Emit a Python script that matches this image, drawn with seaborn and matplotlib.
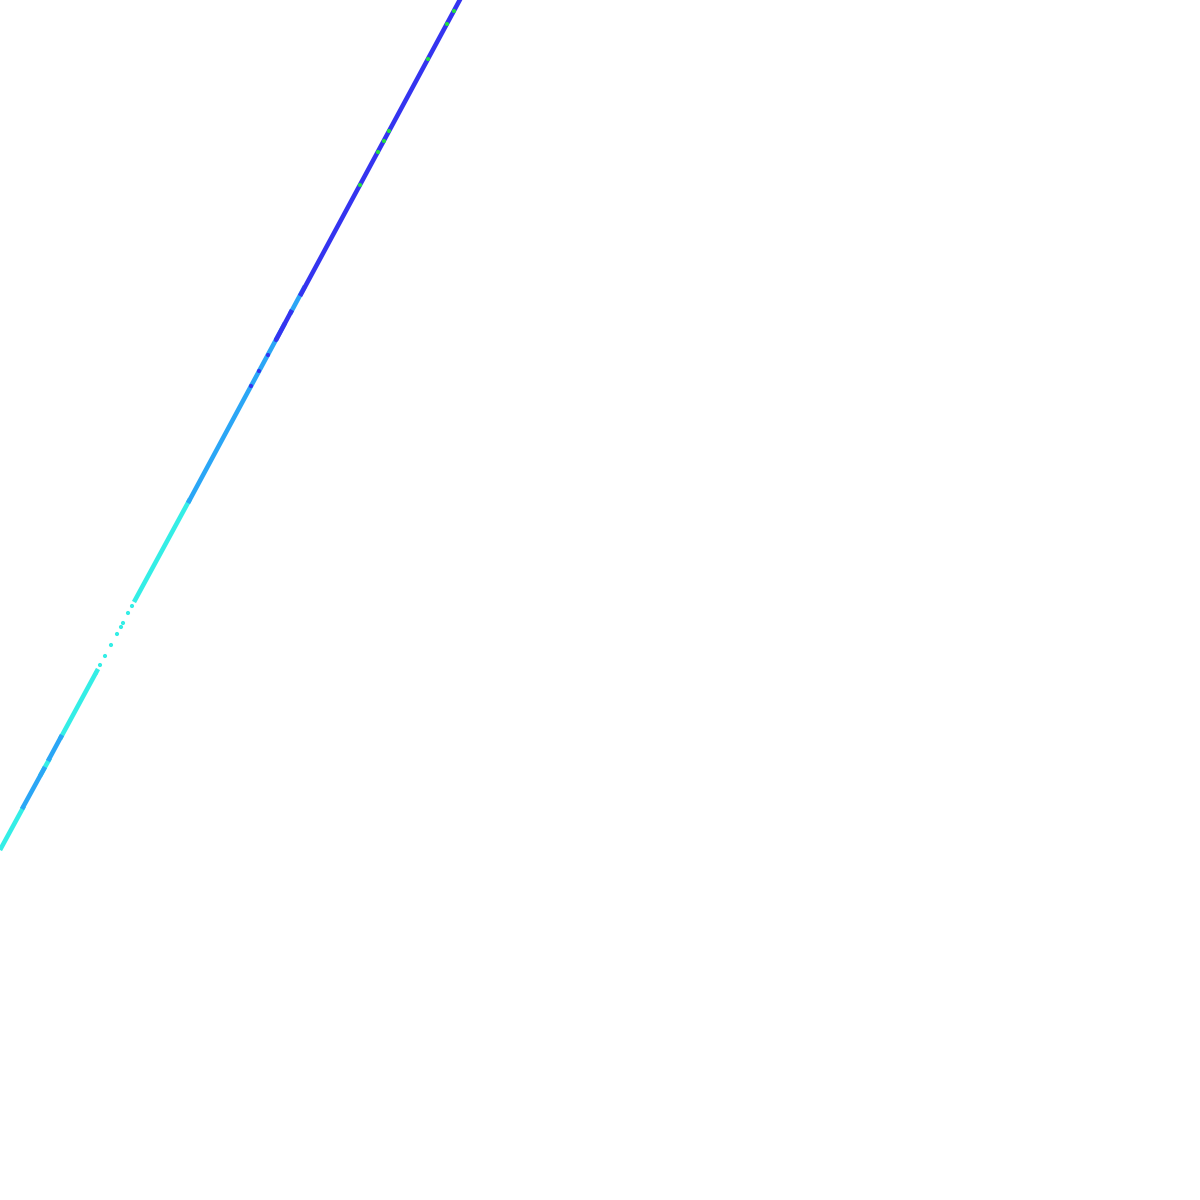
import matplotlib
matplotlib.use("Agg")
import matplotlib.pyplot as plt
import seaborn as sns
import pandas as pd

# Continuous runs of points along the trace: start/end (x, y) and group
seg_group = ["A", "B", "A", "B", "A", "A", "B", "C", "B", "C"]
seg_x0 = [0, 22, 40, 48, 60, 134, 188, 276, 290, 300]
seg_x1 = [24, 45, 50, 62, 98, 190, 285, 292, 305, 463]
seg_y0 = [350, 391, 424, 439, 461, 598, 697, 860, 886, 904]
seg_y1 = [394, 433, 442, 465, 531, 701, 877, 890, 914, 1206]

# Isolated points
pt_group = ["A"] * 9 + ["C"] * 4 + ["D"] * 7
pt_x = [96, 100, 105, 111, 117, 121, 123, 128, 132,
        251, 259, 268, 276,
        360, 378, 384, 389, 428, 447, 454]
pt_y = [527, 535, 544, 555, 566, 573, 577, 587, 594,
        814, 829, 845, 860,
        1015, 1048, 1059, 1069, 1141, 1176, 1189]

palette = {"A": "#34EEE6", "B": "#2AA6F6", "C": "#3434F0", "D": "#22DD44"}

rows = []
for i, g in enumerate(seg_group):
    rows.append({"seg": i, "group": g, "x": seg_x0[i], "y": seg_y0[i]})
    rows.append({"seg": i, "group": g, "x": seg_x1[i], "y": seg_y1[i]})
segs = pd.DataFrame(rows)
pts = pd.DataFrame({"group": pt_group, "x": pt_x, "y": pt_y})

sns.set_theme(style="white")
fig = plt.figure(figsize=(12, 12), dpi=100)
ax = fig.add_axes([0, 0, 1, 1])

sns.lineplot(data=segs, x="x", y="y", hue="group", units="seg",
             estimator=None, sort=False, palette=palette, linewidth=3.3,
             legend=False, ax=ax, solid_capstyle="butt")
sns.scatterplot(data=pts, x="x", y="y", hue="group", palette=palette,
                s=9, linewidth=0, legend=False, ax=ax, zorder=3)

ax.set_xlim(0, 1200)
ax.set_ylim(0, 1200)
ax.axis("off")
fig.savefig("out.png", dpi=100, facecolor="white")
